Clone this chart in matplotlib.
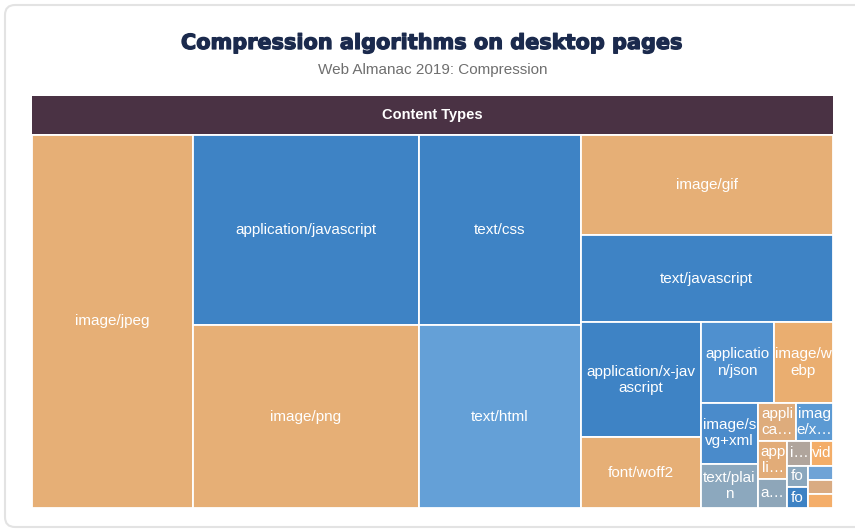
import matplotlib.pyplot as plt
import matplotlib.patheffects as pe
from matplotlib.patches import Rectangle, FancyBboxPatch

plt.rcParams['font.family'] = ['Liberation Sans', 'DejaVu Sans']

# ------------------------------
# data: content types (labels as shown in the tiles) and their relative weight
# ------------------------------
labels = ['image/jpeg', 'application/javascript', 'image/png', 'text/css', 'text/html',
          'image/gif', 'text/javascript', 'application/x-jav\nascript', 'font/woff2',
          'applicatio\nn/json', 'image/w\nebp', 'image/s\nvg+xml', 'text/plai\nn',
          'appli\nca…', 'imag\ne/x…', 'app\nli…', 'a…', 'i…', 'vid', 'fo', 'fo', '', '', '']
weights = [59867, 42958, 41154, 30766, 29474, 25326, 21924, 13743, 8425, 5840, 4760,
           3477, 2537, 1480, 1420, 1100, 860, 560, 540, 440, 420, 370, 350, 350]

ORANGE = '#e6af76'
BLUE = '#3e83c5'
tile_colors = [ORANGE, BLUE, ORANGE, BLUE, '#64a0d7',
               ORANGE, BLUE, BLUE, ORANGE,
               '#4f90cf', '#eaae70', '#4a8bcb', '#8ca8be',
               '#deac7c', '#5c9ad3', '#e2ac78', '#8ea6b9', '#b0a59c', '#f3ad68',
               '#8aa7bd', '#3d82c4', '#6fa3d6', '#d9ab82', '#f4ae6a']


def binary_layout(vals, x, y, w, h, out):
    # split the list in two (first part <= half the total), along the longer side
    if len(vals) == 1:
        out.append((x, y, w, h))
        return
    total = sum(vals)
    k, acc = 1, vals[0]
    while k < len(vals) - 1 and acc + vals[k] <= total / 2:
        acc += vals[k]
        k += 1
    f = acc / total
    if w > h:
        binary_layout(vals[:k], x, y, w * f, h, out)
        binary_layout(vals[k:], x + w * f, y, w * (1 - f), h, out)
    else:
        binary_layout(vals[:k], x, y, w, h * f, out)
        binary_layout(vals[k:], x, y + h * f, w, h * (1 - f), out)


W, H = 855, 531
fig = plt.figure(figsize=(W / 100, H / 100), dpi=100)
ax = fig.add_axes([0, 0, 1, 1])
ax.set_xlim(0, W)
ax.set_ylim(H, 0)
ax.axis('off')

# card frame
ax.add_patch(FancyBboxPatch((5, 5), 865, 522, boxstyle='round,pad=0,rounding_size=10',
                            facecolor='white', edgecolor='#e3e3e3', linewidth=1.5))

# treemap area
left, top, right, bottom = 32, 134.5, 833, 508
ax.add_patch(Rectangle((left, 96), right - left, 38, facecolor='#4a3244', edgecolor='none'))
ax.text((left + right) / 2, 115, 'Content Types', ha='center', va='center',
        color='white', fontsize=10.5, fontweight='bold')

rects = []
binary_layout(weights, left, top, right - left, bottom - top, rects)
for (x, y, w, h), lab, col in zip(rects, labels, tile_colors):
    ax.add_patch(Rectangle((x, y), w, h, facecolor=col, edgecolor='white', linewidth=1.3))
    if lab:
        ax.text(x + w / 2, y + h / 2, lab, ha='center', va='center', color='white',
                fontsize=11, linespacing=1.2, multialignment='center')

ax.text(432.5, 43, 'Compression algorithms on desktop pages', ha='center', va='center',
        fontsize=15, fontweight='bold', family=['DejaVu Sans'], color='#1b2a4d',
        path_effects=[pe.withStroke(linewidth=0.9, foreground='#1b2a4d')])
ax.text(432.5, 70, 'Web Almanac 2019: Compression', ha='center', va='center',
        fontsize=11, color='#6f6f6f')

fig.savefig('out.png', dpi=100)
